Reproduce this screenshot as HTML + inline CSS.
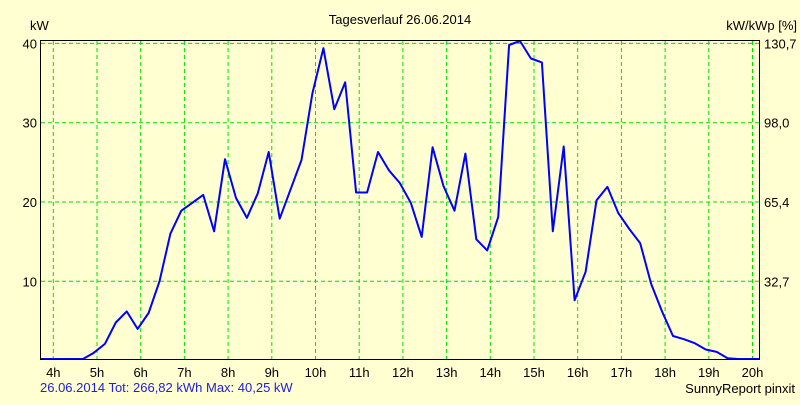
<!DOCTYPE html>
<html><head><meta charset="utf-8"><style>
body{margin:0;background:#FFFFD2;}
svg text{font-family:"Liberation Sans",sans-serif;font-size:13px;fill:#000;}
</style></head><body>
<svg id="chart" width="800" height="400" xmlns="http://www.w3.org/2000/svg">
<rect x="0" y="0" width="800" height="400" fill="#FFFFD2"/>
<text x="400" y="24" text-anchor="middle">Tagesverlauf 26.06.2014</text>
<text x="30" y="30" font-size="14">kW</text>
<text x="797" y="30" text-anchor="end" font-size="14">kW/kWp [%]</text>
<g id="grid"></g>
<g id="labels"></g>
<polyline id="line" fill="none" stroke="#0000FF" stroke-width="2" stroke-linejoin="round"/>
<rect x="40.5" y="40.5" width="719" height="319" fill="none" stroke="#000" stroke-width="1"/>
<text x="40" y="392" font-size="12" style="fill:#2020E0">26.06.2014 Tot: 266,82 kWh Max: 40,25 kW</text>
<text x="795" y="393" text-anchor="end" font-size="12">SunnyReport pinxit</text>
</svg>
<script>
const hourTicks=[4,5,6,7,8,9,10,11,12,13,14,15,16,17,18,19,20];
const kwTicks=[10,20,30,40];
const pctLabels=["32,7","65,4","98,0","130,7"];
const startHour=4.68;
const stepHour=0.25;
const power=[0,1.0,2.1,4.8,6.2,4.0,6.0,10.0,16.0,18.9,19.9,20.9,16.3,25.4,20.5,18.0,21.1,26.3,17.9,21.6,25.3,33.7,39.4,31.7,35.1,21.2,21.2,26.3,24.0,22.4,19.9,15.6,26.9,22.0,18.9,26.1,15.3,13.9,18.1,39.8,40.3,38.1,37.6,16.3,27.0,7.6,11.2,20.2,21.9,18.6,16.6,14.8,9.7,6.2,3.1,2.7,2.2,1.4,1.1,0.3,0.1,0];
const X=h=>53.3+(h-4)*43.7;
const Y=v=>360.6-v*7.93;
const NS="http://www.w3.org/2000/svg";
const grid=document.getElementById('grid'),labels=document.getElementById('labels');
function mk(tag,attrs,parent){const e=document.createElementNS(NS,tag);for(const k in attrs)e.setAttribute(k,attrs[k]);parent.appendChild(e);return e;}
hourTicks.forEach(h=>{
  const x=X(h);
  const g=mk('line',{x1:x,x2:x,y1:41,y2:359,stroke:'#00E000','stroke-dasharray':'4,3'},grid);
  
  
  const t=mk('text',{x:x,y:377,'text-anchor':'middle'},labels);
  
  
  t.textContent=h+'h';
});
kwTicks.forEach((v,i)=>{
  const y=Y(v);
  const g=mk('line',{x1:41,x2:759,y1:y,y2:y,stroke:'#00E000','stroke-dasharray':'4,3'},grid);
  
  
  const t=mk('text',{x:37,y:y+5,'text-anchor':'end',"font-size":"14"},labels);
  
  
  t.textContent=v;
  const r=mk('text',{x:764,y:y+5,"font-size":"14"},labels);
  
  
  r.textContent=pctLabels[i];
});
const pts=[[41,Y(0)]];
power.forEach((v,i)=>pts.push([X(startHour+i*stepHour),Y(v)]));
pts.push([759,Y(0)]);
document.getElementById('line').setAttribute('points',pts.map(p=>p[0].toFixed(1)+','+Math.min(p[1],359).toFixed(1)).join(' '));
</script>
</body></html>
